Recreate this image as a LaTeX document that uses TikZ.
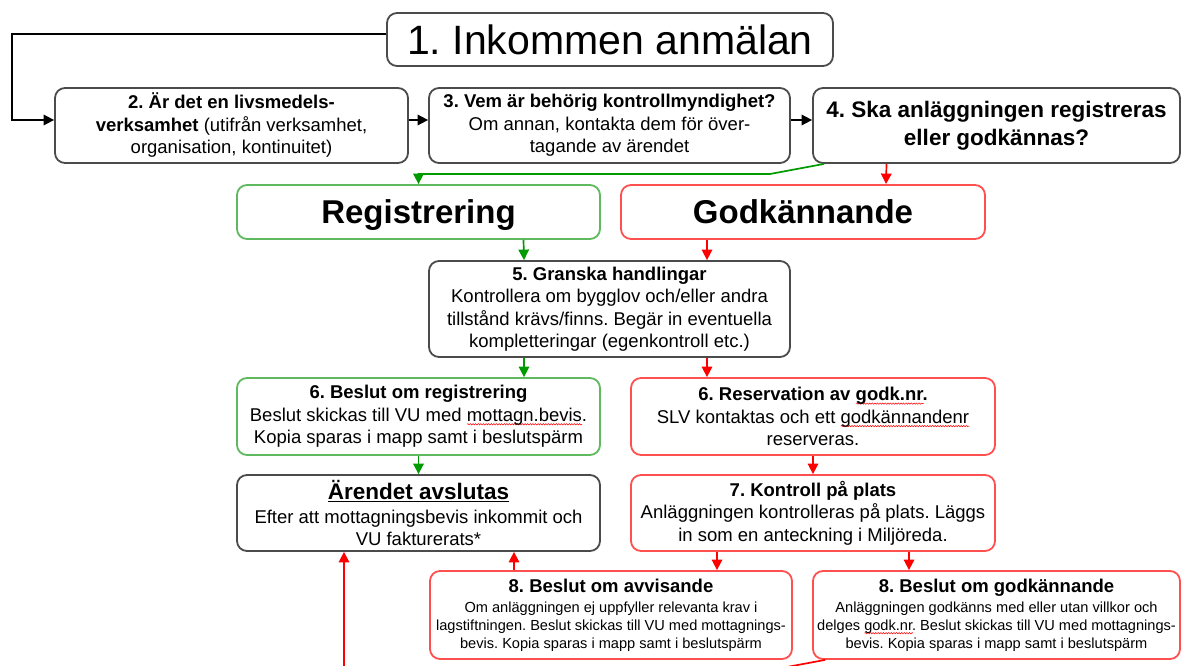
\documentclass[tikz,border=0pt]{standalone}
\usepackage{fontspec}
\setmainfont{Liberation Sans}
\usetikzlibrary{arrows.meta,decorations.pathmorphing}
\frenchspacing
\definecolor{gArrow}{RGB}{0,155,0}
\definecolor{gBox}{RGB}{95,185,95}
\definecolor{rArrow}{RGB}{255,0,0}
\definecolor{rBox}{RGB}{255,80,80}
\definecolor{kBox}{RGB}{75,75,75}
\newlength\spellw
\newcommand\spellmark[1]{\settowidth\spellw{#1}\rlap{\tikz[baseline=0pt]\draw[draw=red, line width=0.5pt, sharp corners, solid, -, decorate, decoration={snake, amplitude=0.7pt, segment length=2.6pt}] (0pt,-3pt) -- (\spellw,-3pt);}#1}
\newcommand\bodyfont{\fontsize{18.5}{22.5}\selectfont}
\newcommand\smallbody{\fontsize{14.6}{18}\selectfont}
\tikzset{
  box/.style={draw=kBox, line width=1.8pt, rounded corners=10pt, align=center,
    inner sep=0pt, fill=white, font=\bodyfont},
  gbox/.style={box, draw=gBox},
  rbox/.style={box, draw=rBox},
  bigtitle/.style={font=\fontsize{33}{38}\selectfont\bfseries, text height=23.5pt, text depth=-3pt},
  karr/.style={draw=black, line width=1.7pt, -{Triangle[length=10.5pt,width=10.5pt]}},
  garr/.style={karr, draw=gArrow},
  rarr/.style={karr, draw=rArrow},
}
\begin{document}
\begin{tikzpicture}[x=1pt,y=-1pt]
\path[use as bounding box, clip] (0,0) rectangle (1186,666);
\fill[white] (0,0) rectangle (1186,666);

% row 1
\node[box, minimum width=446pt, minimum height=53pt, font=\fontsize{41}{45}\selectfont] (b1) at (610,39.5) {1. Inkommen anmälan};

% row 2
\node[box, minimum width=353pt, minimum height=75pt] (b2) at (231.5,125.5)
  {\textbf{2. Är det en livsmedels-}\\\textbf{verksamhet} (utifrån verksamhet,\\organisation, kontinuitet)};
\node[box, minimum width=361pt, minimum height=75pt] (b3) at (609.5,125.5)
  {\textbf{3. Vem är behörig kontrollmyndighet?}\\Om annan, kontakta dem för över-\\tagande av ärendet};
\node[box, minimum width=367pt, minimum height=75pt, font=\fontsize{22.5}{28}\selectfont\bfseries] (b4) at (996.5,125.5)
  {4. Ska anläggningen registreras\\eller godkännas?};

% row 3
\node[gbox, bigtitle, minimum width=363pt, minimum height=54pt] (reg) at (418.5,212) {Registrering};
\node[rbox, bigtitle, minimum width=364pt, minimum height=54pt] (god) at (803,212) {Godkännande};

% row 4
\node[box, minimum width=361pt, minimum height=96pt] (b5) at (609.5,309)
  {\textbf{5. Granska handlingar}\\Kontrollera om bygglov och/eller andra\\tillstånd krävs/finns. Begär in eventuella\\kompletteringar (egenkontroll etc.)};

% row 5
\node[gbox, minimum width=363pt, minimum height=77pt] (b6r) at (418.5,416.5)
  {\textbf{6. Beslut om registrering}\\Beslut skickas till VU med \spellmark{mottagn.bevis}.\\Kopia sparas i mapp samt i beslutspärm};
\node[rbox, minimum width=364pt, minimum height=77pt] (b6g) at (813,416.5)
  {\textbf{6. Reservation av \spellmark{godk.nr}.}\\SLV kontaktas och ett \spellmark{godkännandenr}\\reserveras.};

% row 6
\node[box, minimum width=363pt, minimum height=76pt] (aren) at (418.5,513)
  {{\fontsize{22.5}{26}\selectfont\bfseries\underline{Ärendet avslutas}}\\[1pt]Efter att mottagningsbevis inkommit och\\VU fakturerats*};
\node[rbox, minimum width=364pt, minimum height=76pt] (b7) at (813,513)
  {\textbf{7. Kontroll på plats}\\Anläggningen kontrolleras på plats. Läggs\\in som en anteckning i Miljöreda.};

% row 7
\node[rbox, minimum width=362pt, minimum height=88pt, font=\smallbody] (b8a) at (611,615)
  {{\fontsize{18.5}{22}\selectfont\bfseries 8. Beslut om avvisande}\\[2pt]Om anläggningen ej uppfyller relevanta krav i\\lagstiftningen. Beslut skickas till VU med mottagnings-\\bevis. Kopia sparas i mapp samt i beslutspärm};
\node[rbox, minimum width=367pt, minimum height=88pt, font=\smallbody] (b8g) at (996.5,615)
  {{\fontsize{18.5}{22}\selectfont\bfseries 8. Beslut om godkännande}\\[2pt]Anläggningen godkänns med eller utan villkor och\\delges \spellmark{godk.nr}. Beslut skickas till VU med mottagnings-\\bevis. Kopia sparas i mapp samt i beslutspärm};

% helper coordinates
\coordinate (lc) at (12,120);
\coordinate (gc) at (770,174);
\coordinate (rc) at (760,672);

% connectors
\draw[karr] ([yshift=5.5pt]b1.west) -| (lc) -- ([yshift=5.5pt]b2.west);
\draw[karr] ([yshift=5.5pt]b2.east) -- ([yshift=5.5pt]b3.west);
\draw[karr] ([yshift=5.5pt]b3.east) -- ([yshift=5.5pt]b4.west);

\draw[garr] ([xshift=12pt]b4.south west) -- (gc) -| (reg.north);
\draw[rarr] ([xshift=-110pt]b4.south) -- ([xshift=83pt]god.north);

\draw[garr] ([xshift=105pt]reg.south) -- ([xshift=-85.5pt]b5.north);
\draw[rarr] ([xshift=-96pt]god.south) -- ([xshift=97.5pt]b5.north);

\draw[garr] ([xshift=-85.5pt]b5.south) -- ([xshift=105.5pt]b6r.north);
\draw[rarr] ([xshift=97.5pt]b5.south) -- ([xshift=-106pt]b6g.north);

\draw[garr] (b6r.south) -- (aren.north);
\draw[rarr] (b6g.south) -- (b7.north);

\draw[rarr] ([xshift=-96pt]b7.south) -- ([xshift=106pt]b8a.north);
\draw[rarr] ([xshift=96pt]b7.south) -- ([xshift=-87.5pt]b8g.north);

\draw[rarr] ([xshift=-97pt]b8a.north) -- ([xshift=95.5pt]aren.south);
\draw[rarr] ([xshift=13pt]b8g.south west) -- (rc) -| ([xshift=-74.5pt]aren.south);
\end{tikzpicture}
\end{document}
